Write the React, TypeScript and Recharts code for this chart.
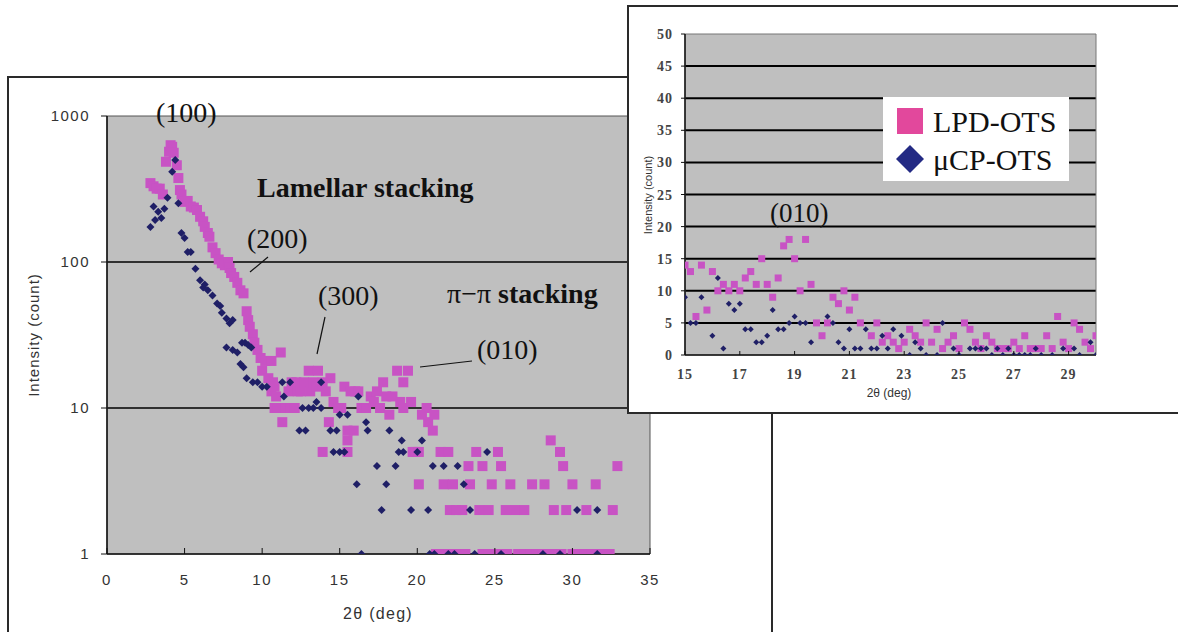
import React from 'react';
import { ScatterChart, Scatter, XAxis, YAxis, CartesianGrid, ReferenceArea, Legend } from 'recharts';

const serif = "'Liberation Serif', 'Times New Roman', serif";
const sans = "'Liberation Sans', Arial, sans-serif";

const PLOT_BG = '#bfbfbf';
const LPD_COLOR = '#c853c4';
const UCP_COLOR = '#1f1f66';
const LEGEND_COLORS: Record<string, string> = { 'LPD-OTS': '#e2489c', 'μCP-OTS': '#232a84' };

// main (log) chart ticks
const mainXTicks = [0, 5, 10, 15, 20, 25, 30, 35];
const mainYTicks = [1, 10, 100, 1000];
// inset (linear) chart ticks
const insetXTicks = [15, 17, 19, 21, 23, 25, 27, 29];
const insetYTicks = [0, 5, 10, 15, 20, 25, 30, 35, 40, 45, 50];

// [2theta, count]
const lpdMain: [number, number][] = [
  [2.8, 347], [3.0, 330], [3.2, 318], [3.4, 318], [3.6, 290], [3.8, 486], [4.0, 569], [4.1, 631], [4.2, 615],
  [4.3, 560], [4.5, 460], [4.6, 376], [4.7, 311], [4.8, 290], [5.0, 258], [5.2, 262], [5.4, 240], [5.6, 236],
  [5.8, 227], [6.0, 204], [6.2, 190], [6.3, 174], [6.5, 158], [6.6, 149], [6.8, 126], [7.0, 115], [7.2, 104],
  [7.4, 98], [7.6, 95], [7.8, 100], [7.9, 91], [8.0, 84], [8.2, 79], [8.4, 72], [8.6, 64], [8.8, 61], [9.0, 46],
  [9.1, 40], [9.2, 36], [9.4, 32], [9.5, 28], [9.7, 25], [9.9, 22], [10.0, 18], [10.2, 21], [10.4, 16],
  [10.6, 21], [10.6, 13], [10.7, 15], [10.8, 14], [10.8, 10], [10.9, 12], [11.0, 10], [11.2, 24], [11.2, 10],
  [11.3, 8], [11.5, 10], [11.7, 13], [11.8, 10], [11.9, 15], [12.1, 10], [12.2, 15], [12.3, 13], [12.5, 13],
  [12.7, 15], [13.0, 18], [13.1, 13], [13.3, 15], [13.5, 14], [13.6, 18], [13.9, 15], [13.9, 5], [14.1, 13],
  [14.3, 8], [14.4, 16], [14.6, 11], [14.9, 10], [15.1, 10], [15.3, 14], [15.5, 7], [15.5, 6], [15.5, 5],
  [15.7, 13], [15.9, 7], [16.0, 13], [16.2, 13], [16.4, 10], [16.7, 10], [17.0, 12], [17.2, 11], [17.4, 13],
  [17.6, 10], [17.8, 15], [18.0, 12], [18.2, 9], [18.4, 12], [18.7, 18], [18.9, 11], [19.1, 15], [19.1, 10],
  [19.4, 18], [19.6, 11], [19.7, 5], [19.9, 5], [20.1, 5], [20.1, 3], [20.3, 9], [20.6, 10], [20.7, 8],
  [21.0, 7], [21.1, 9], [21.5, 5], [22.0, 5], [23.8, 5], [25.2, 5], [29.2, 5], [28.6, 6],
  [23.3, 4], [24.2, 4], [25.4, 4], [29.4, 4], [32.9, 4],
  [21.7, 3], [22.3, 3], [23.4, 3], [24.8, 3], [26.0, 3], [27.4, 3], [28.2, 3], [30.0, 3], [31.5, 3],
  [22.1, 2], [22.5, 2], [22.9, 2], [24.0, 2], [24.6, 2], [25.7, 2], [26.3, 2], [26.9, 2], [28.8, 2],
  [29.6, 2], [30.9, 2], [32.6, 2],
  [21.2, 1], [21.6, 1], [22.0, 1], [22.4, 1], [22.8, 1], [23.1, 1], [24.2, 1], [24.6, 1], [25.0, 1],
  [25.4, 1], [25.8, 1], [26.5, 1], [26.9, 1], [27.3, 1], [27.7, 1], [28.1, 1], [28.5, 1], [28.9, 1],
  [29.3, 1], [30.0, 1], [30.4, 1], [30.8, 1], [31.2, 1], [31.6, 1], [32.0, 1], [32.4, 1],
];

const ucpMain: [number, number][] = [
  [2.8, 174], [3.0, 240], [3.1, 194], [3.3, 221], [3.5, 200], [3.7, 232], [3.9, 275], [4.2, 415], [4.4, 500],
  [4.6, 253], [4.8, 158], [5.0, 146], [5.2, 117], [5.4, 117], [5.7, 90], [6.0, 75], [6.2, 67], [6.3, 70],
  [6.5, 64], [6.8, 59], [7.1, 52], [7.3, 50], [7.4, 45], [7.7, 41], [7.7, 26], [7.9, 38], [8.1, 40], [8.1, 25],
  [8.4, 24], [8.6, 20], [8.7, 28], [8.8, 19], [8.9, 28], [9.0, 16], [9.1, 27], [9.3, 26], [9.4, 15], [9.7, 15],
  [10.0, 14], [10.3, 14], [11.3, 15], [11.4, 12], [11.8, 15], [12.4, 7], [12.6, 10], [12.8, 7], [13.0, 10],
  [13.3, 10], [13.5, 11], [13.8, 10], [13.8, 15], [14.4, 7], [14.6, 5], [14.8, 7], [15.0, 9], [15.0, 5],
  [15.3, 5], [15.5, 9], [16.1, 3], [16.2, 12], [16.4, 1], [16.7, 8], [16.8, 7], [17.4, 4], [17.7, 2], [18.0, 3],
  [18.2, 7], [18.6, 4], [18.8, 5], [19.0, 6], [19.1, 5], [19.6, 2], [20.0, 5], [20.3, 6], [20.7, 2], [20.8, 1],
  [21.0, 4], [21.1, 1], [21.7, 4], [22.0, 1], [22.4, 1], [22.6, 4], [23.0, 3], [23.4, 2], [23.7, 1], [24.5, 5],
  [25.4, 1], [28.1, 1], [29.2, 1], [30.3, 2], [31.6, 2], [31.6, 1],
];

// inset, linear scale
const lpdInset: [number, number][] = [
  [15.0, 14], [15.2, 13], [15.4, 6], [15.6, 14], [15.8, 7], [16.0, 13], [16.2, 10], [16.4, 11], [16.6, 10],
  [16.8, 11], [17.0, 10], [17.2, 12], [17.4, 13], [17.6, 11], [17.8, 15], [18.0, 11], [18.2, 9], [18.4, 12],
  [18.6, 17], [18.8, 18], [19.0, 15], [19.2, 10], [19.4, 18], [19.6, 11], [19.8, 5], [20.0, 3], [20.2, 5],
  [20.4, 9], [20.6, 8], [20.8, 10], [21.0, 7], [21.2, 9], [21.4, 5], [21.8, 3], [22.0, 5], [22.2, 2], [22.4, 3],
  [22.6, 2], [22.8, 1], [23.0, 2], [23.2, 4], [23.4, 3], [23.6, 2], [23.8, 5], [24.0, 2], [24.2, 4], [24.4, 1],
  [24.6, 2], [24.8, 3], [25.0, 1], [25.2, 5], [25.4, 4], [25.6, 2], [25.8, 1], [26.0, 3], [26.2, 2], [26.4, 1],
  [26.6, 1], [26.8, 1], [27.0, 2], [27.2, 1], [27.4, 3], [27.6, 1], [27.8, 1], [28.0, 1], [28.2, 3], [28.4, 1],
  [28.6, 6], [28.8, 2], [29.0, 1], [29.2, 5], [29.4, 4], [29.6, 2], [29.8, 1], [30.0, 3],
];

const ucpInset: [number, number][] = [
  [15.0, 9], [15.2, 5], [15.4, 5], [15.6, 9], [16.0, 3], [16.2, 12], [16.4, 1], [16.6, 8], [16.8, 7], [17.0, 8],
  [17.2, 4], [17.4, 4], [17.6, 2], [17.8, 2], [18.0, 3], [18.2, 7], [18.4, 4], [18.6, 4], [18.8, 5], [19.0, 6],
  [19.2, 5], [19.4, 5], [19.6, 2], [20.2, 6], [20.4, 5], [20.6, 2], [20.8, 1], [21.0, 4], [21.2, 1], [21.4, 1],
  [21.6, 4], [21.8, 1], [22.0, 1], [22.2, 3], [22.4, 1], [22.6, 4], [22.9, 3], [23.2, 0], [23.4, 2], [23.6, 1],
  [23.8, 0], [24.2, 0], [24.4, 5], [24.8, 1], [25.0, 0], [25.4, 1], [25.6, 1], [25.8, 1], [26.0, 1], [26.2, 0],
  [26.4, 1], [26.6, 0], [26.8, 1], [27.0, 0], [27.2, 0], [27.4, 0], [27.6, 0], [27.8, 1], [28.0, 0], [28.4, 0],
  [28.8, 1], [29.2, 1], [29.4, 0], [29.8, 2], [30.0, 0],
];

const toPoints = (arr: [number, number][]) => arr.map(([x, y]) => ({ x, y }));

const square = (half: number, color: string) => (p: any) => (
  <rect x={p.cx - half} y={p.cy - half} width={half * 2} height={half * 2} fill={color} />
);
const diamond = (r: number, color: string) => (p: any) => (
  <polygon points={`${p.cx},${p.cy - r} ${p.cx + r},${p.cy} ${p.cx},${p.cy + r} ${p.cx - r},${p.cy}`} fill={color} />
);

function MainXTick({ x, y, payload }: any) {
  return (
    <g>
      <line x1={x} x2={x} y1={y} y2={y - 6} stroke="#111" />
      <text x={x} y={y + 31} textAnchor="middle" fontSize={15} fontFamily={sans} fill="#333" letterSpacing={1.5}>
        {payload.value}
      </text>
    </g>
  );
}

function MainYTick({ x, y, payload }: any) {
  return (
    <text x={x} y={y + 5} textAnchor="end" fontSize={15} fontFamily={sans} fill="#333" letterSpacing={1.5}>
      {payload.value}
    </text>
  );
}

function InsetXTick({ x, y, payload }: any) {
  return (
    <g>
      <line x1={x} x2={x} y1={y} y2={y - 4} stroke="#111" />
      <text x={x} y={y + 24} textAnchor="middle" fontSize={14} fontWeight="bold" fontFamily={serif} fill="#444" letterSpacing={1}>
        {payload.value}
      </text>
    </g>
  );
}

function InsetYTick({ x, y, payload }: any) {
  return (
    <text x={x} y={y + 5} textAnchor="end" fontSize={14} fontWeight="bold" fontFamily={serif} fill="#444" letterSpacing={1}>
      {payload.value}
    </text>
  );
}

function InsetLegend({ payload }: any) {
  const items = payload || [];
  return (
    <svg width={186} height={84} style={{ background: '#fff', display: 'block' }}>
      {items.map((entry: any, i: number) => {
        const color = LEGEND_COLORS[entry.value] || entry.color;
        const cy = 24 + i * 38;
        return (
          <g key={entry.value}>
            {i === 0 ? (
              <rect x={14} y={cy - 13} width={26} height={26} fill={color} />
            ) : (
              <polygon points={`27,${cy - 14} 41,${cy} 27,${cy + 14} 13,${cy}`} fill={color} />
            )}
            <text x={50} y={cy + 11} fontSize={30} fontFamily={serif} fill="#111">{entry.value}</text>
          </g>
        );
      })}
    </svg>
  );
}

export default function App() {
  return (
    <div style={{ position: 'absolute', left: 0, top: 0, width: 1178, height: 632, overflow: 'hidden', background: '#fff' }}>
      {/* main log chart */}
      <div style={{ position: 'absolute', left: 7, top: 76, width: 766, height: 600, boxSizing: 'border-box', border: '2px solid #2a2a2a' }} />
      <div style={{ position: 'absolute', left: 8, top: 76 }}>
        <ScatterChart width={764} height={556} margin={{ top: 40, right: 122, bottom: 0, left: 0 }}>
          <CartesianGrid fill={PLOT_BG} fillOpacity={1} stroke="#000" strokeWidth={1.5} vertical={false} horizontalValues={[10, 100]} />
          <XAxis
            type="number"
            dataKey="x"
            domain={[0, 35]}
            ticks={mainXTicks}
            height={78}
            tickSize={0}
            tickMargin={0}
            tick={MainXTick}
            tickLine={false}
            axisLine={{ stroke: '#111', strokeWidth: 1.5 }}
            allowDataOverflow
          />
          <YAxis
            type="number"
            dataKey="y"
            scale="log"
            domain={[1, 1000]}
            ticks={mainYTicks}
            width={99}
            tickSize={6}
            tickMargin={11}
            tick={MainYTick}
            tickLine={{ stroke: '#111' }}
            axisLine={{ stroke: '#111', strokeWidth: 1.5 }}
            allowDataOverflow
          />
          <ReferenceArea x1={0} x2={35} y1={1} y2={1000} fill="none" stroke="#555" strokeWidth={1} ifOverflow="visible" />
          <Scatter name="LPD-OTS" data={toPoints(lpdMain)} shape={square(5, LPD_COLOR)} fill={LPD_COLOR} isAnimationActive={false} />
          <Scatter name="μCP-OTS" data={toPoints(ucpMain)} shape={diamond(4, UCP_COLOR)} fill={UCP_COLOR} isAnimationActive={false} />
        </ScatterChart>
      </div>
      <svg style={{ position: 'absolute', left: 0, top: 0 }} width={1178} height={632}>
        <g fontFamily={serif} fontSize={28} fill="#111">
          <text x={156} y={122}>(100)</text>
          <text x={257} y={197} fontWeight="bold">Lamellar stacking</text>
          <text x={247} y={248}>(200)</text>
          <text x={318} y={305}>(300)</text>
          <text x={447} y={303}>
            π−π<tspan fontWeight="bold"> stacking</tspan>
          </text>
          <text x={477} y={359}>(010)</text>
        </g>
        <g stroke="#111" strokeWidth={1.2}>
          <line x1={268} y1={257} x2={250} y2={272} />
          <line x1={325} y1={317} x2={317} y2={354} />
          <line x1={472} y1={361} x2={420} y2={367} />
        </g>
        <text x={33} y={335} transform="rotate(-90 33 335)" textAnchor="middle" dominantBaseline="central" fontSize={15} fontFamily={sans} fill="#333" letterSpacing={1}>
          Intensity (count)
        </text>
        <text x={378} y={619} textAnchor="middle" fontSize={16} fontFamily={sans} fill="#333" letterSpacing={1.3}>
          2θ (deg)
        </text>
      </svg>

      {/* inset linear chart */}
      <div style={{ position: 'absolute', left: 627, top: 5, width: 600, height: 409, boxSizing: 'border-box', border: '2px solid #2a2a2a', background: '#fff' }} />
      <div style={{ position: 'absolute', left: 628, top: 6 }}>
        <ScatterChart width={550} height={407} margin={{ top: 28, right: 82, bottom: 0, left: 0 }}>
          <CartesianGrid fill={PLOT_BG} fillOpacity={1} stroke="#000" strokeWidth={2} vertical={false} horizontalValues={[5, 10, 15, 20, 25, 30, 35, 40, 45]} />
          <XAxis
            type="number"
            dataKey="x"
            domain={[15, 30]}
            ticks={insetXTicks}
            height={58}
            tickSize={0}
            tickMargin={0}
            tick={InsetXTick}
            tickLine={false}
            axisLine={{ stroke: '#111', strokeWidth: 1.5 }}
            allowDataOverflow
          />
          <YAxis
            type="number"
            dataKey="y"
            domain={[0, 50]}
            ticks={insetYTicks}
            width={57}
            tickSize={4}
            tickMargin={8}
            tick={InsetYTick}
            tickLine={{ stroke: '#111' }}
            axisLine={{ stroke: '#111', strokeWidth: 1.5 }}
            allowDataOverflow
          />
          <ReferenceArea x1={15} x2={30} y1={0} y2={50} fill="none" stroke="#777" strokeWidth={1} ifOverflow="visible" />
          <Scatter name="LPD-OTS" data={toPoints(lpdInset)} shape={square(3.5, LPD_COLOR)} fill={LPD_COLOR} isAnimationActive={false} />
          <Scatter name="μCP-OTS" data={toPoints(ucpInset)} shape={diamond(3, UCP_COLOR)} fill={UCP_COLOR} isAnimationActive={false} />
          <Legend
            layout="horizontal"
            verticalAlign="middle"
            align="center"
            content={InsetLegend}
            wrapperStyle={{ left: 255, top: 91, width: 186, height: 84 }}
          />
        </ScatterChart>
      </div>
      <svg style={{ position: 'absolute', left: 0, top: 0 }} width={1178} height={632}>
        <text x={770} y={222} fontFamily={serif} fontSize={27} fill="#111">(010)</text>
        <text x={648} y={195} transform="rotate(-90 648 195)" textAnchor="middle" dominantBaseline="central" fontSize={11} fontFamily={sans} fill="#333">
          Intensity (count)
        </text>
        <text x={889} y={397} textAnchor="middle" fontSize={12} fontFamily={sans} fill="#333">
          2θ (deg)
        </text>
      </svg>
    </div>
  );
}
